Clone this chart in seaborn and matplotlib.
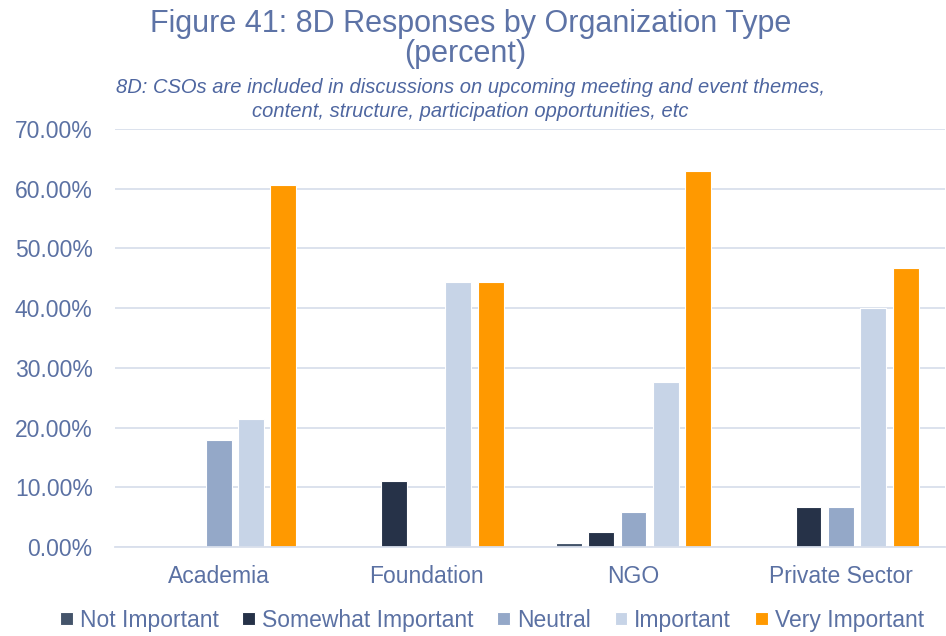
import matplotlib
matplotlib.use("Agg")
import matplotlib.pyplot as plt
import seaborn as sns
import pandas as pd
from matplotlib.ticker import PercentFormatter, MultipleLocator

# Survey results: share of responses per organization type
org_types = ["Academia", "Foundation", "NGO", "Private Sector"]
responses = ["Not Important", "Somewhat Important", "Neutral", "Important", "Very Important"]

not_important = [0.0, 0.0, 0.68, 0.0]
somewhat_important = [0.0, 11.11, 2.45, 6.67]
neutral = [17.86, 0.0, 5.80, 6.67]
important = [21.43, 44.44, 27.60, 40.00]
very_important = [60.71, 44.44, 63.00, 46.67]

colors = ["#44546A", "#263248", "#94A8C8", "#C7D4E7", "#FF9900"]

series = [not_important, somewhat_important, neutral, important, very_important]
rows = []
for resp, vals in zip(responses, series):
    for org, v in zip(org_types, vals):
        rows.append({"Organization": org, "Response": resp, "Percent": v})
df = pd.DataFrame(rows)

text_color = "#5B71A3"
grid_color = "#D9DFEC"

sns.set_theme(style="white")
plt.rcParams["font.family"] = ["Liberation Sans", "DejaVu Sans"]

fig = plt.figure(figsize=(9.46, 6.36), dpi=100)
ax = fig.add_axes([0.1215, 0.14, 0.877, 0.657])

sns.barplot(
    data=df, x="Organization", y="Percent", hue="Response",
    order=org_types, hue_order=responses,
    palette=dict(zip(responses, colors)), saturation=1,
    width=0.78, gap=0.2, edgecolor="white", linewidth=0.8,
    ax=ax, legend=True,
)

ax.set_ylim(0, 70)
ax.set_xlim(-0.5, 3.5)
ax.yaxis.set_major_locator(MultipleLocator(10))
ax.yaxis.set_major_formatter(PercentFormatter(decimals=2))
ax.grid(axis="y", color=grid_color, linewidth=1.3)
ax.set_axisbelow(True)
for side in ["top", "right", "left"]:
    ax.spines[side].set_visible(False)
ax.spines["bottom"].set_color(grid_color)
ax.spines["bottom"].set_linewidth(1.3)

ax.set_xlabel("")
ax.set_ylabel("")
ax.tick_params(axis="both", length=0, colors=text_color, labelsize=16.5)
ax.tick_params(axis="y", pad=16)
ax.tick_params(axis="x", pad=13)
for lbl in ax.get_xticklabels() + ax.get_yticklabels():
    lbl.set_color(text_color)

handles, labels = ax.get_legend_handles_labels()
ax.get_legend().remove()
fig.legend(
    handles, labels, loc="center", bbox_to_anchor=(0.52, 0.025),
    ncol=5, frameon=False, fontsize=16.5, labelcolor=text_color,
    handlelength=0.55, handleheight=0.55, handletextpad=0.3, columnspacing=1.05,
)

fig.text(0.497, 0.962, "Figure 41: 8D Responses by Organization Type",
         ha="center", va="center", fontsize=22, color="#5D73A6")
fig.text(0.492, 0.915, "(percent)",
         ha="center", va="center", fontsize=22, color="#5D73A6")
fig.text(0.497, 0.862, "8D: CSOs are included in discussions on upcoming meeting and event themes,",
         ha="center", va="center", fontsize=14.5, style="italic", color="#4E66A0")
fig.text(0.497, 0.825, "content, structure, participation opportunities, etc",
         ha="center", va="center", fontsize=14.5, style="italic", color="#4E66A0")

fig.savefig("out.png", dpi=100, facecolor="white")
